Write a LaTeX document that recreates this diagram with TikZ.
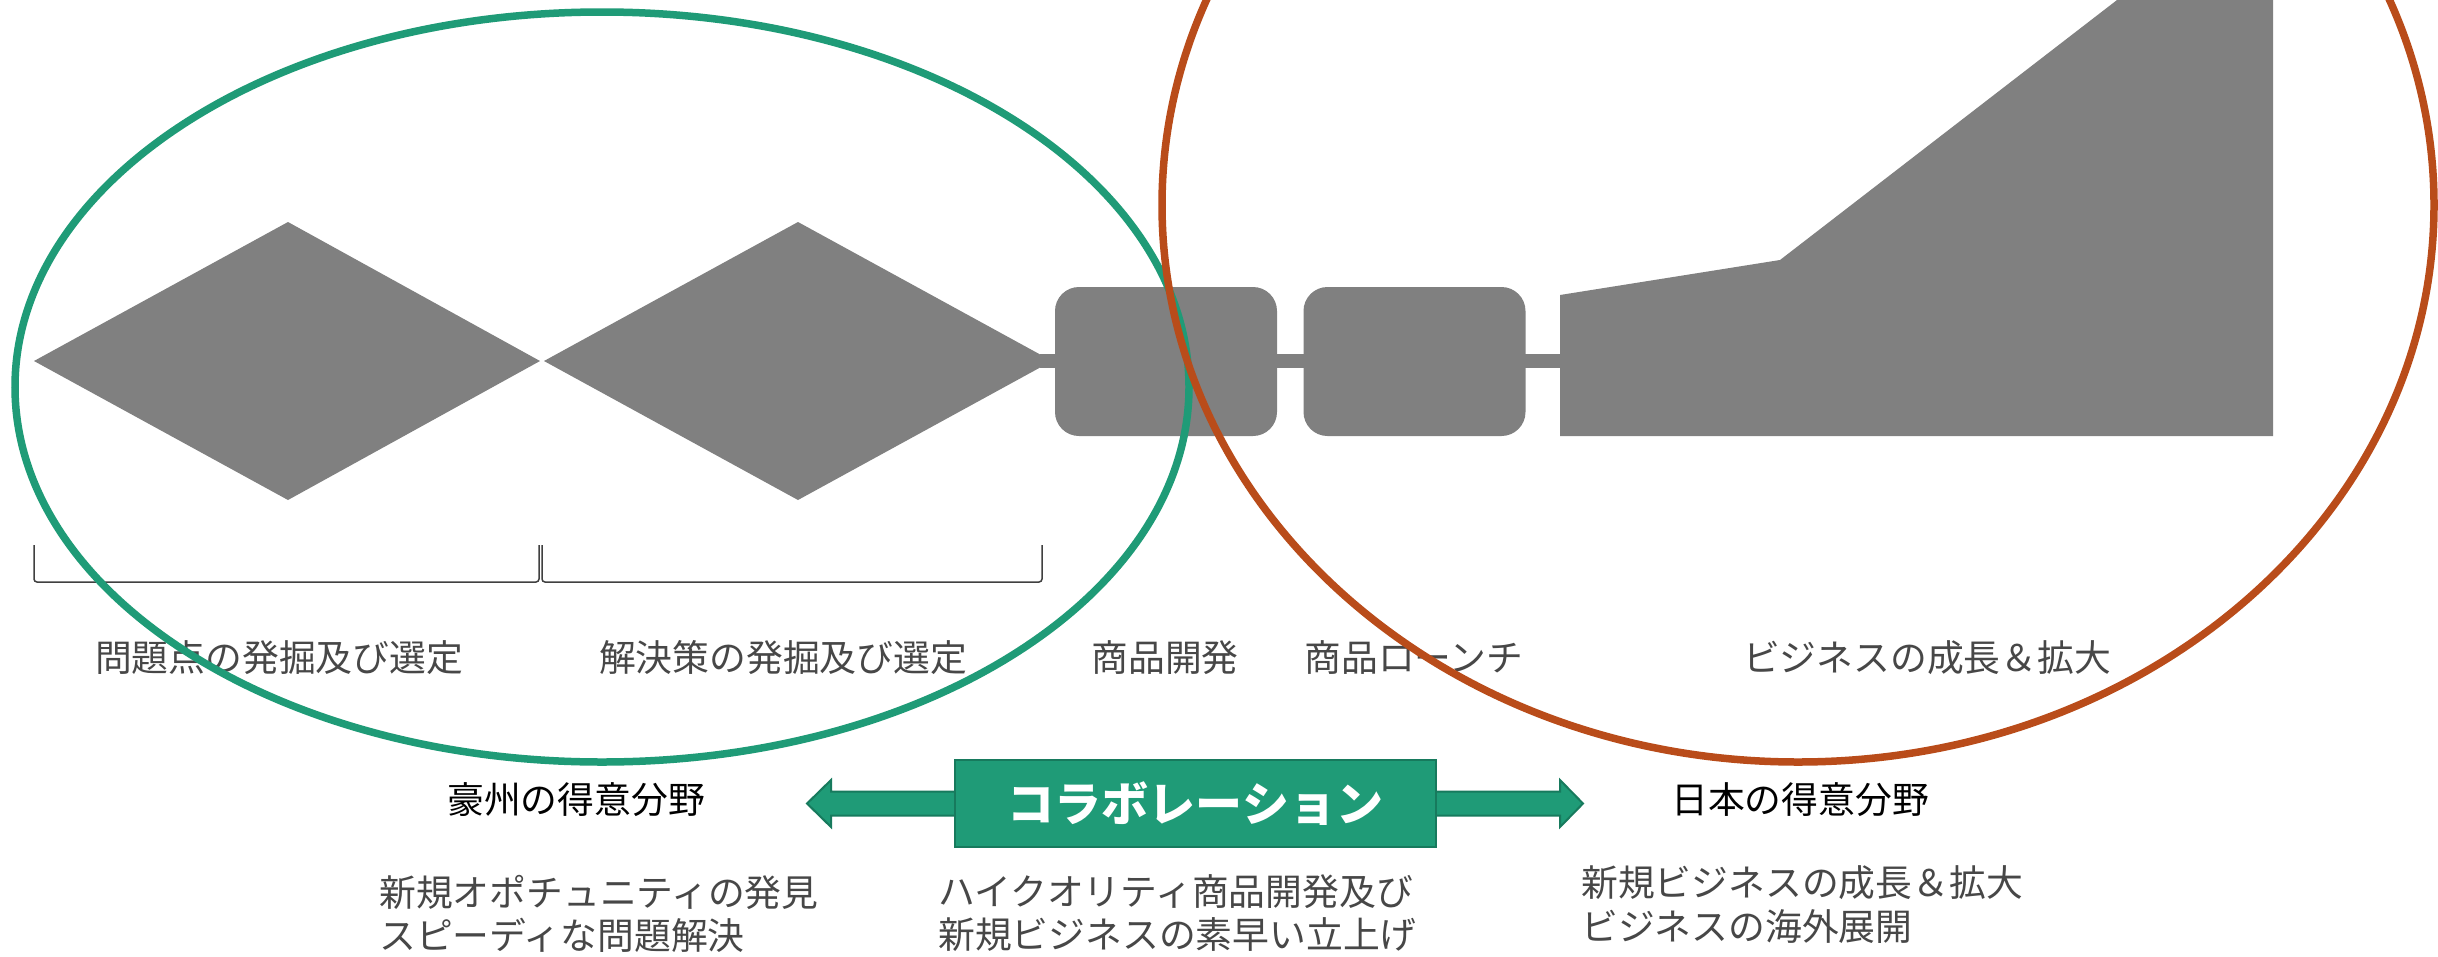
\documentclass[tikz,border=0pt]{standalone}
\usepackage{fontspec}
\setmainfont{Noto Sans CJK JP}
\definecolor{grn}{HTML}{1F9B77}
\definecolor{grnd}{HTML}{177A5D}
\definecolor{org}{HTML}{B94C1A}
\definecolor{shp}{HTML}{808080}
\definecolor{txt}{HTML}{474747}
\begin{document}
\begin{tikzpicture}[x=1pt,y=-1pt,
  lbl/.style={inner sep=0pt, text=txt, font=\fontsize{36.8}{44}\selectfont},
  hd/.style={inner sep=0pt, text=black, font=\fontsize{36.8}{44}\selectfont},
  gbox/.style={fill=shp, rounded corners=24pt, minimum width=222pt, minimum height=149pt, inner sep=0pt},
  bar/.style={draw=shp, line width=14pt},
  brk/.style={draw=black!75, line width=1.5pt, rounded corners=3pt},
  ring/.style={line width=7.5pt}]
\clip (0,0) rectangle (2438,956);
\fill[white] (0,0) rectangle (2438,956);
% gray process shapes
\coordinate (d2tip) at (1040,361);
\coordinate (grL) at (1562,361);
\draw[bar] (d2tip) -- (grL);
\fill[shp] (34,361) -- (288,222) -- (540,361) -- (288,500) -- cycle;
\fill[shp] (544,361) -- (798,222) -- (1052,361) -- (798,500) -- cycle;
\node[gbox] (b1) at (1166,361.5) {};
\node[gbox] (b2) at (1414.5,361.5) {};
\fill[shp] (1560,295) -- (1780,260) -- (2130,-10) -- (2273,-10) -- (2273,436) -- (1560,436) -- cycle;
% brackets
\draw[brk] (34,545) -- (34,582) -- (539,582) -- (539,545);
\draw[brk] (542,545) -- (542,582) -- (1042,582) -- (1042,545);
% stage labels
\node[lbl] (l1) at (279,658) {問題点の発掘及び選定};
\node[lbl] (l2) at (783,658) {解決策の発掘及び選定};
\node[lbl] (l3) at (1165,658) {商品開発};
\node[lbl] (l4) at (1414,658) {商品ローンチ};
\node[lbl] (l5) at (1927,658) {ビジネスの成長＆拡大};
% collaboration arrow
\filldraw[fill=grn, draw=grnd, line width=2pt]
  (807,803.5) -- (831,780) -- (831,791.5) -- (1560,791.5) -- (1560,780) -- (1583,803.5)
  -- (1560,827) -- (1560,815.5) -- (831,815.5) -- (831,827) -- cycle;
\node[fill=grn, draw=grnd, line width=2pt, minimum width=481pt, minimum height=87pt, inner sep=0pt,
  text=white, font=\fontsize{47}{52}\selectfont\bfseries] (collab) at (1195.5,803.5) {コラボレーション};
\node[hd] (au) at (576,800) {豪州の得意分野};
\node[hd] (jp) at (1800,800) {日本の得意分野};
% descriptions
\node[lbl, anchor=west] (a1) at (379,892) {新規オポチュニティの発見};
\node[lbl, anchor=west] (a2) at (379,935) {スピーディな問題解決};
\node[lbl, anchor=west] (c1) at (938,892) {ハイクオリティ商品開発及び};
\node[lbl, anchor=west] (c2) at (938,935) {新規ビジネスの素早い立上げ};
\node[lbl, anchor=west] (j1) at (1581,883) {新規ビジネスの成長＆拡大};
\node[lbl, anchor=west] (j2) at (1581,927) {ビジネスの海外展開};
% ellipses
\draw[grn, ring] (602,387) ellipse [x radius=587, y radius=375];
\draw[org, ring] (1798,205) ellipse [x radius=636, y radius=557];
\end{tikzpicture}
\end{document}
